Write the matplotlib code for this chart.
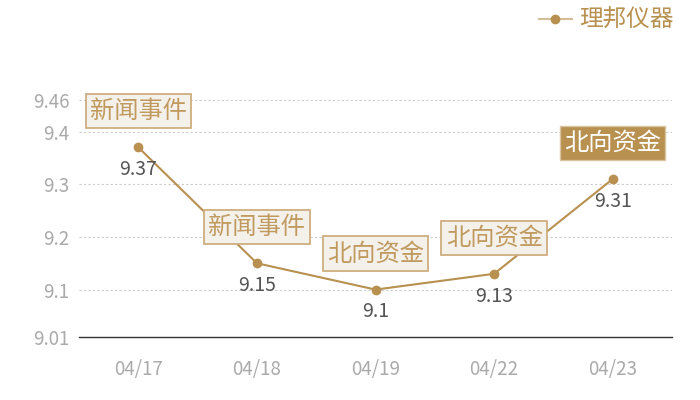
import matplotlib
matplotlib.use('Agg')
from matplotlib import pyplot as plt

plt.rcParams['font.family'] = ['Noto Sans CJK SC', 'DejaVu Sans']

dates = ['04/17', '04/18', '04/19', '04/22', '04/23']
prices = [9.37, 9.15, 9.1, 9.13, 9.31]
events = ['新闻事件', '新闻事件', '北向资金', '北向资金', '北向资金']
highlight = [False, False, False, False, True]
y_ticks = [9.01, 9.1, 9.2, 9.3, 9.4, 9.46]
y_labels = ['9.01', '9.1', '9.2', '9.3', '9.4', '9.46']
series_name = '理邦仪器'

gold = '#b8904f'

fig = plt.figure(figsize=(7, 4), dpi=100)
ax = fig.add_axes([0.113, 0.1575, 0.847, 0.5925])

x = list(range(len(dates)))
ax.plot(x, prices, color=gold, lw=1.5, marker='o', ms=6, label=series_name, zorder=3)

# value labels under each point
for i, v in enumerate(prices):
    ax.annotate('%g' % v, (i, v), xytext=(0, -16), textcoords='offset points',
                ha='center', va='center', fontsize=14, color='#555555', zorder=4)

# event tags above each point
for i, (v, ev) in enumerate(zip(prices, events)):
    if highlight[i]:
        box = dict(boxstyle='square,pad=0.17', fc=gold, ec='#d9c3a0', lw=1)
        col = 'white'
    else:
        box = dict(boxstyle='square,pad=0.17', fc='#f4f0ea', ec='#cfae7f', lw=1.3)
        col = '#c09a5f'
    ax.annotate(ev, (i, v), xytext=(0, 26), textcoords='offset points',
                ha='center', va='center', fontsize=17.5, color=col, bbox=box, zorder=5)

ax.set_xlim(-0.5, len(dates) - 0.5)
ax.set_ylim(9.01, 9.46)
ax.set_xticks(x)
ax.set_xticklabels(dates)
ax.set_yticks(y_ticks)
ax.set_yticklabels(y_labels)
ax.tick_params(axis='both', length=0, colors='#aaaaaa', labelsize=13.5)
ax.tick_params(axis='x', pad=16)
ax.tick_params(axis='y', pad=7)

for t in y_ticks[1:]:
    ax.axhline(t, color='#cccccc', lw=0.8, ls=(0, (2, 2)), zorder=1)

for s in ['top', 'right', 'left']:
    ax.spines[s].set_visible(False)
ax.spines['bottom'].set_color('#333333')
ax.spines['bottom'].set_linewidth(1)

leg = fig.legend(loc='upper right', bbox_to_anchor=(0.992, 1.03), frameon=False,
                 fontsize=17, handlelength=1.4, handletextpad=0.3)
for t in leg.get_texts():
    t.set_color(gold)
leg.get_lines()[0].set_color('#d4bc94')
leg.get_lines()[0].set_markerfacecolor(gold)
leg.get_lines()[0].set_markeredgecolor(gold)

fig.savefig('out.png', dpi=100)
